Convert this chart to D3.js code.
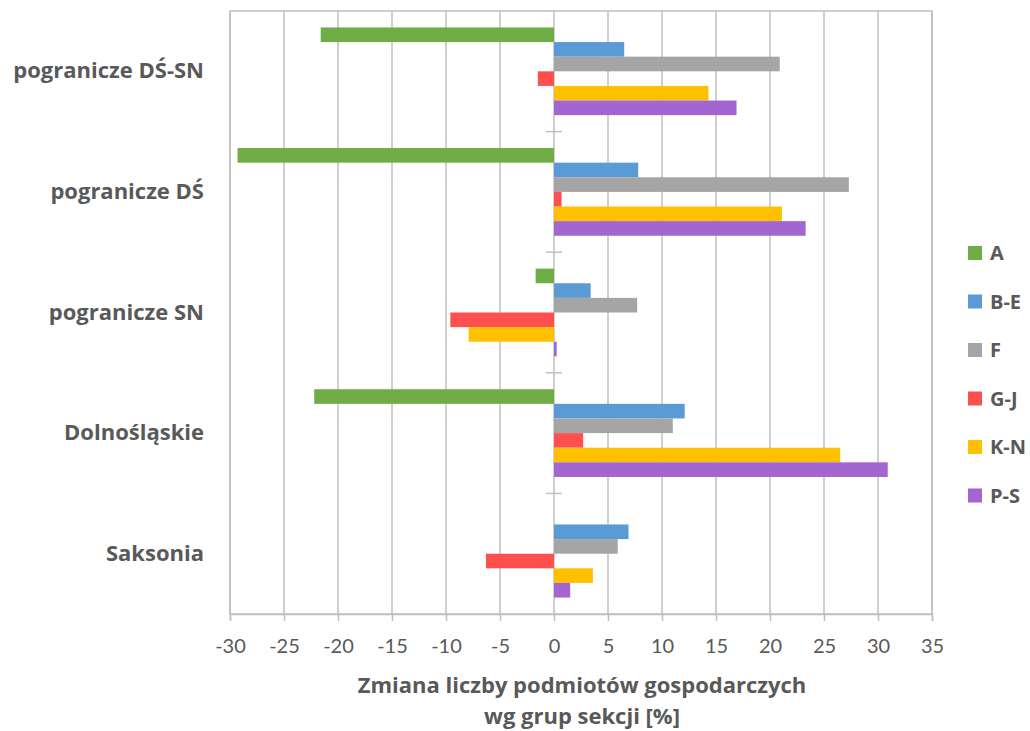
<!DOCTYPE html>
<html><head><meta charset="utf-8">
<script src="https://cdn.jsdelivr.net/npm/d3@7"></script>
<style>body{margin:0;background:#fff;} svg{display:block;font-family:"Open Sans",Lato,sans-serif;}</style>
</head><body><svg id="c" width="1030" height="731"></svg>
<script>
const categories = ["pogranicze DŚ-SN","pogranicze DŚ","pogranicze SN","Dolnośląskie","Saksonia"];
const seriesNames = ["A","B-E","F","G-J","K-N","P-S"];
const seriesColors = ["#70AD47","#5B9BD5","#A5A5A5","#FF5050","#FFC000","#A365D1"];
const valuesA   = [-21.6,-29.3,-1.7,-22.2,0];
const valuesBE  = [6.5,7.8,3.4,12.1,6.9];
const valuesF   = [20.9,27.3,7.7,11.0,5.9];
const valuesGJ  = [-1.5,0.7,-9.6,2.7,-6.3];
const valuesKN  = [14.3,21.1,-7.9,26.5,3.6];
const valuesPS  = [16.9,23.3,0.25,30.9,1.5];
const xTicks = [-30,-25,-20,-15,-10,-5,0,5,10,15,20,25,30,35];
const axisTitle = ["Zmiana liczby podmiotów gospodarczych","wg grup sekcji [%]"];

const seriesValues = [valuesA,valuesBE,valuesF,valuesGJ,valuesKN,valuesPS];
const svg = d3.select("#c");
const L=230,R=932,T=11,B=614;
const x = d3.scaleLinear().domain([-30,35]).range([L,R]);
const y = d3.scaleBand().domain(categories).range([T,B]).padding(0);
const inner = d3.scaleBand().domain(seriesNames).range([0,y.bandwidth()*88/121]);
const off = (y.bandwidth() - y.bandwidth()*88/121)/2;

// grid
svg.append("g").selectAll("line").data(xTicks).join("line")
  .attr("x1",d=>x(d)).attr("x2",d=>x(d)).attr("y1",T).attr("y2",B)
  .attr("stroke","#BFBFBF").attr("stroke-width",1.5);
// plot border
svg.append("rect").attr("x",L).attr("y",T).attr("width",R-L).attr("height",B-T)
  .attr("fill","none").attr("stroke","#BFBFBF").attr("stroke-width",1.5);

// bars
seriesNames.forEach((s,si)=>{
  svg.append("g").selectAll("rect").data(categories).join("rect")
    .attr("x",(c,i)=>x(Math.min(0,seriesValues[si][i])))
    .attr("width",(c,i)=>Math.abs(x(seriesValues[si][i])-x(0)))
    .attr("y",c=>y(c)+off+inner(s))
    .attr("height",inner.bandwidth())
    .attr("fill",seriesColors[si]);
});

// category separator ticks on zero axis
const seps = categories.slice(1).map(c=>y(c));
svg.append("g").selectAll("line").data(seps).join("line")
  .attr("x1",x(0)-8).attr("x2",x(0)+8).attr("y1",d=>d).attr("y2",d=>d)
  .attr("stroke","#BFBFBF").attr("stroke-width",1.5);

// x axis
const ax = svg.append("g").attr("transform",`translate(0,${B})`)
  .call(d3.axisBottom(x).tickValues(xTicks).tickSize(7).tickPadding(18).tickFormat(d=>String(d)));
ax.select(".domain").attr("stroke","#BFBFBF").attr("stroke-width",1.5);
ax.selectAll(".tick line").attr("stroke","#BFBFBF").attr("stroke-width",1.5);
ax.selectAll("text").attr("fill","#595959").style("font-size","20px").style("font-family","Lato,sans-serif");

// axis title
svg.append("g").selectAll("text").data(axisTitle).join("text")
  .attr("x",(L+R)/2+1).attr("y",(d,i)=>693+i*31).attr("text-anchor","middle")
  .attr("fill","#595959").style("font-size","22px").style("font-weight","bold").text(d=>d);

// category labels
svg.append("g").selectAll("text").data(categories).join("text")
  .attr("x",204).attr("y",c=>y(c)+y.bandwidth()/2+7).attr("text-anchor","end")
  .attr("fill","#595959").style("font-size","22px").style("font-weight","bold").text(d=>d);

// legend
const lg = svg.append("g").selectAll("g").data(seriesNames).join("g")
  .attr("transform",(d,i)=>`translate(968,${253+i*48.5})`);
lg.append("rect").attr("x",0).attr("y",-7).attr("width",14).attr("height",14).attr("fill",(d,i)=>seriesColors[i]);
lg.append("text").attr("x",22).attr("y",7).attr("fill","#595959").style("font-size","20px").style("font-weight","bold").text(d=>d);
</script></body></html>
